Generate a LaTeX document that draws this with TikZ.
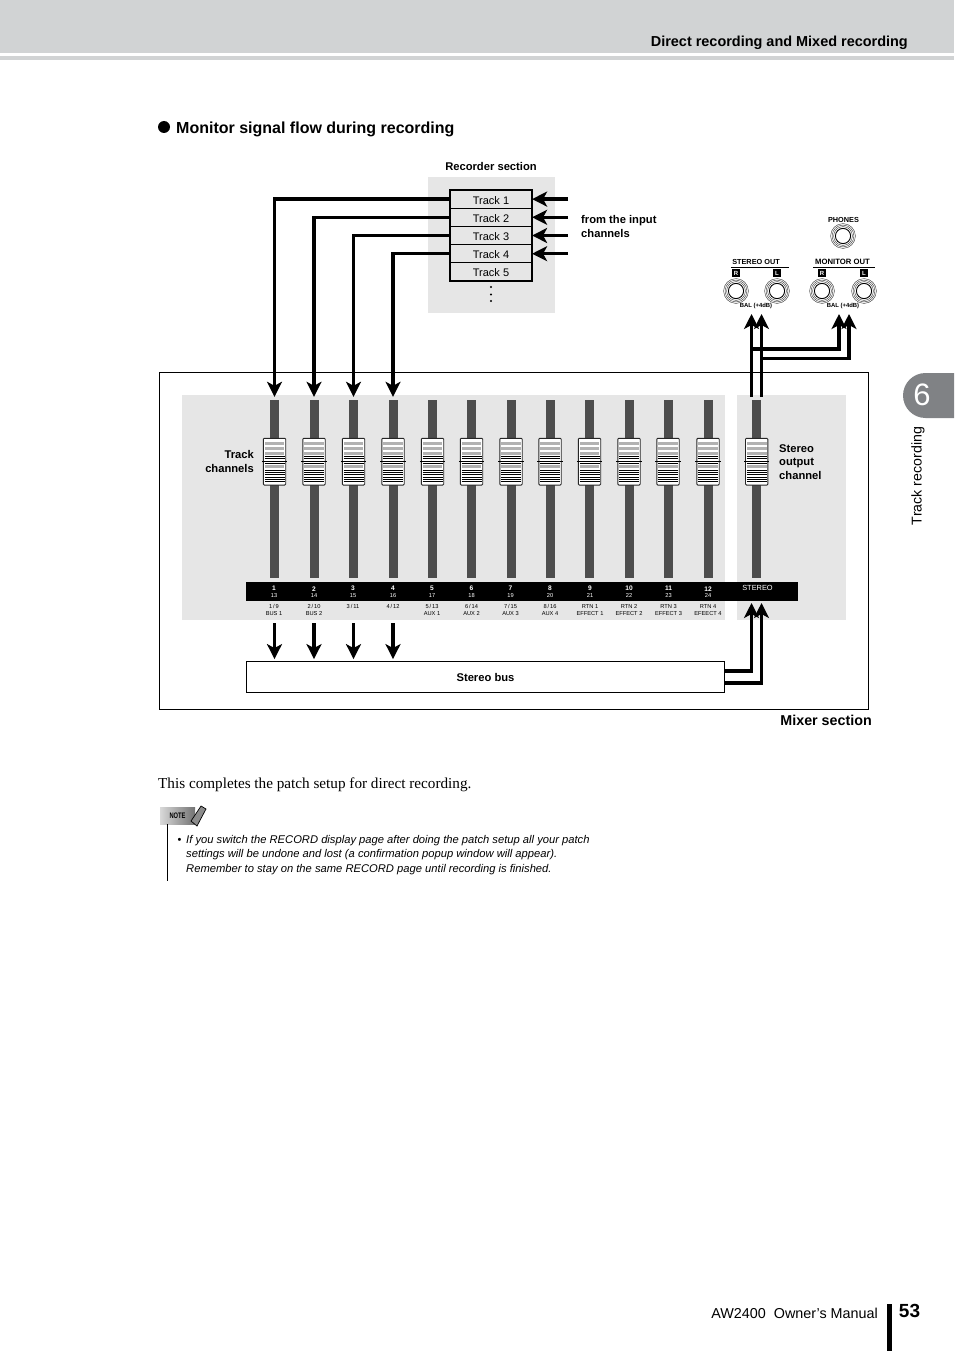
\documentclass[tikz,border=0pt]{standalone}
\usepackage{fontspec}
\setmainfont{Liberation Sans}
\newfontfamily\bodyserif{Liberation Serif}
\usetikzlibrary{arrows.meta}
\definecolor{headgray}{HTML}{D1D3D4}
\definecolor{panelgray}{HTML}{E6E6E6}
\definecolor{slotgray}{HTML}{4D4D4D}
\definecolor{tabgray}{HTML}{808285}
\tikzset{
  flow/.style={line width=3.2pt,-{Stealth[length=15pt,width=15pt,inset=4pt]}},
  tracklabel/.style={font=\fontsize{11}{13}\selectfont,draw,line width=0.7pt,minimum width=81.5pt,minimum height=18.2pt,inner sep=0pt,text height=10pt,text depth=0pt},
  boldlabel/.style={font=\fontsize{11.2}{13.6}\selectfont\bfseries,inner sep=0pt},
  tinylabel/.style={font=\fontsize{5.7}{6}\selectfont,inner sep=0pt},
  tinybold/.style={font=\fontsize{6.6}{7}\selectfont\bfseries,text=white,inner sep=0pt},
  jacklabel/.style={font=\fontsize{7.3}{8}\selectfont\bfseries,inner sep=0pt},
  ballabel/.style={font=\fontsize{5.9}{6}\selectfont\bfseries,inner sep=0pt},
  slot/.style={fill=slotgray,minimum width=9pt,minimum height=178pt,inner sep=0pt},
  tagbox/.style={fill=black,text=white,font=\fontsize{6}{6}\selectfont\bfseries,minimum size=8pt,inner sep=0pt},
}
% knob on a fader slot: center x, center y
\def\faderknob(#1,#2){
  \begin{scope}[shift={(#1,#2)}]
    \draw[fill=white,line width=0.9pt,rounded corners=1pt,draw=black!85] (-11.2,-23.4) rectangle (11.2,23.4);
    \foreach \a/\b in {-20/-16.7,-14.7/-11.7,-10/-6.7,3.3/6} \fill[black!30] (-9.8,\a) rectangle (9.8,\b);
    \foreach \s in {-5.7,-3.4,1.7,8.3,10.6,12.9,15.2,17.5,19.8} \draw[line width=0.55pt] (-10,\s) -- (10,\s);
    \draw[line width=0.9pt] (-12.6,0) -- (12.6,0);
  \end{scope}
}
\def\jack(#1,#2){
  \draw[line width=0.4pt,black!80] (#1,#2) circle (12.4);
  \draw[line width=0.4pt,black!80] (#1,#2) circle (10.9);
  \draw[line width=0.4pt,black!80] (#1,#2) circle (9.4);
  \draw[line width=0.9pt] (#1,#2) circle (7.6);
}
\begin{document}
\begin{tikzpicture}[x=1pt,y=-1pt]
\useasboundingbox (0,0) rectangle (954,1351);

% page header
\fill[headgray] (0,0) rectangle (954,53);
\fill[headgray] (0,56) rectangle (954,60);
\node[anchor=east,inner sep=0pt,font=\fontsize{14.45}{16}\selectfont\bfseries] (headtitle) at (908,43) {Direct recording and Mixed recording};

\fill (164,127) circle (6);
\node[anchor=west,inner sep=0pt,font=\fontsize{16}{18}\selectfont\bfseries] (title) at (176,129.5) {Monitor signal flow during recording};

% recorder section
\fill[panelgray] (428,177) rectangle (555,313);
\node[boldlabel] (recorder) at (491,166) {Recorder section};
\foreach \n/\y in {1/199.1,2/217.3,3/235.5,4/253.7,5/271.9}
  \node[tracklabel] (track\n) at (491,\y) {Track \n};
\draw[line width=1.8pt] (track1.north west) rectangle (track5.south east);
\foreach \y in {287,294.5,301} \fill (491,\y) circle (1.2);
\node[boldlabel,anchor=west,align=left] (inputs) at (581,226.5) {from the input\\channels};

% input channels into the tracks
\foreach \n/\y in {1/199.1,2/217.3,3/235.5,4/253.7}{
  \coordinate (in\n) at (568,\y);
  \draw[flow] (in\n) -- (track\n.east);
}

% mixer section
\draw[line width=0.7pt] (159.5,372.5) rectangle (868.5,709.5);
\fill[panelgray] (182,395) rectangle (725,620);
\fill[panelgray] (737,395) rectangle (846,620);
\node[boldlabel,anchor=east,align=right] (trackch) at (254,461.5) {Track\\channels};
\node[boldlabel,anchor=west,align=left] (stereoch) at (779,462) {Stereo\\output\\channel};
\node[anchor=east,inner sep=0pt,font=\fontsize{14.3}{16}\selectfont\bfseries] (mixer) at (872,720) {Mixer section};

% faders
\foreach \n/\x in {1/274.5,2/314,3/353.5,4/393,5/432.5,6/471.5,7/511,8/550,9/589.5,10/629,11/668,12/708}{
  \node[slot] (fader\n) at (\x,489) {};
  \faderknob(\x,461.7)
}
\node[slot] (faderst) at (756.7,489) {};
\faderknob(756.7,461.7)

% channel strip
\fill (246,582) rectangle (798,601);
\foreach \n/\x/\m/\a/\b in {1/274/13/{1\,/\,9}/BUS 1,2/314/14/{2\,/\,10}/BUS 2,3/353/15/{3\,/\,11}/,4/393/16/{4\,/\,12}/,5/432/17/{5\,/\,13}/AUX 1,6/471.5/18/{6\,/\,14}/AUX 2,7/510.5/19/{7\,/\,15}/AUX 3,8/550/20/{8\,/\,16}/AUX 4,9/590/21/RTN 1/EFFECT 1,10/629/22/RTN 2/EFFECT 2,11/668.5/23/RTN 3/EFFECT 3,12/708/24/RTN 4/EFEECT 4}{
  \node[tinybold] (num\n) at (\x,588.7) {\n};
  \node[tinylabel,text=white] (sub\n) at (\x,595.8) {\m};
  \node[tinylabel] (bus\n) at (\x,606.3) {\a};
  \node[tinylabel] (aux\n) at (\x,613.7) {\b};
}
\node[tinylabel,text=white,font=\fontsize{7.4}{8}\selectfont] (stereo) at (757.5,588) {STEREO};

% stereo bus
\node[draw,line width=0.8pt,minimum width=478pt,minimum height=31pt,inner sep=0pt,font=\fontsize{11.2}{13}\selectfont\bfseries,text height=9.5pt,text depth=0pt] (bus) at (485.5,677) {Stereo bus};

% tracks to the channel faders
\draw[flow,shorten >=3pt] (track1.west) -| (fader1.north);
\draw[flow,shorten >=3pt] (track2.west) -| (fader2.north);
\draw[flow,shorten >=3pt] (track3.west) -| (fader3.north);
\draw[flow,shorten >=3pt] (track4.west) -| (fader4.north);

% channels to the stereo bus
\foreach \n in {1,2,3,4}{
  \coordinate (out\n) at (fader\n |- 0,623);
  \draw[flow,shorten >=2pt] (out\n) -- (out\n |- bus.north);
}

% stereo bus to the stereo channel
\coordinate (busa) at (724.5,671);
\coordinate (busb) at (724.5,683);
\coordinate (rtna) at (751.5,603);
\coordinate (rtnb) at (761.5,603);
\draw[flow] (busa) -| (rtna);
\draw[flow] (busb) -| (rtnb);

% jacks
\jack(736,291)
\jack(777,291)
\jack(822,291)
\jack(864,291)
\jack(843,236)
\node[jacklabel] (phones) at (843.5,219.5) {PHONES};
\node[jacklabel] (stout) at (756,262) {STEREO OUT};
\node[jacklabel,font=\fontsize{7.7}{8}\selectfont\bfseries] (monout) at (842.5,262) {MONITOR OUT};
\draw[line width=0.7pt] (731,267.5) -- (789,267.5);
\draw[line width=0.7pt] (813,267.5) -- (875,267.5);
\node[tagbox] (tagra) at (736,273) {R};
\node[tagbox] (tagla) at (777,273) {L};
\node[tagbox] (tagrb) at (822,273) {R};
\node[tagbox] (taglb) at (864,273) {L};
\node[ballabel] (bala) at (756,306) {BAL (+4dB)};
\node[ballabel] (balb) at (843,306) {BAL (+4dB)};

% stereo channel to the outputs
\coordinate (outa) at (751.5,397);
\coordinate (outb) at (761.5,397);
\coordinate (jacka) at (751.5,314);
\coordinate (jackb) at (761.5,314);
\coordinate (jackc) at (839,314);
\coordinate (jackd) at (849,314);
\draw[flow] (outa) -- (jacka);
\draw[flow] (outb) -- (jackb);
\draw[flow] (outa |- 0,349) -| (jackc);
\draw[flow] (outb |- 0,358.5) -| (jackd);

% body text and note
\node[anchor=west,inner sep=0pt,font=\fontsize{15.2}{17}\selectfont\bodyserif] (body) at (158,785) {This completes the patch setup for direct recording.};
\shade[left color=black!15,right color=black!55] (160,807) rectangle (195,824);
\node[inner sep=0pt,font=\fontsize{8}{8}\selectfont\bfseries] (notetag) at (177.5,815.5) {\scalebox{0.72}[1]{NOTE}};
\draw[fill=black!45,line width=0.7pt] (191,821) -- (201,806) -- (206,809) -- (197,826) -- cycle;
\draw[line width=0.7pt] (167.5,824) -- (167.5,881);
\node[inner sep=0pt,font=\fontsize{11}{13}\selectfont] (dot) at (179.5,841) {•};
\node[anchor=north west,inner sep=0pt,align=left,font=\fontsize{11.2}{14.5}\selectfont\itshape] (note) at (186,835) {If you switch the RECORD display page after doing the patch setup all your patch\\settings will be undone and lost (a confirmation popup window will appear).\\Remember to stay on the same RECORD page until recording is finished.};

% side tab
\fill[tabgray] (954,373) -- (925.5,373) arc (270:90:22.5) -- (954,418) -- cycle;
\node[text=white,inner sep=0pt,font=\fontsize{31}{31}\selectfont] (tabnum) at (922,395) {6};
\node[rotate=90,inner sep=0pt,font=\fontsize{14.2}{16}\selectfont] (tabtext) at (918,476) {Track recording};

% page footer
\node[anchor=east,inner sep=0pt,font=\fontsize{14.35}{16}\selectfont] (manual) at (878,1313) {AW2400\ \ Owner’s Manual};
\fill (887,1304) rectangle (892,1351);
\node[inner sep=0pt,font=\fontsize{19}{20}\selectfont\bfseries] (pageno) at (909.5,1311) {53};
\end{tikzpicture}
\end{document}
